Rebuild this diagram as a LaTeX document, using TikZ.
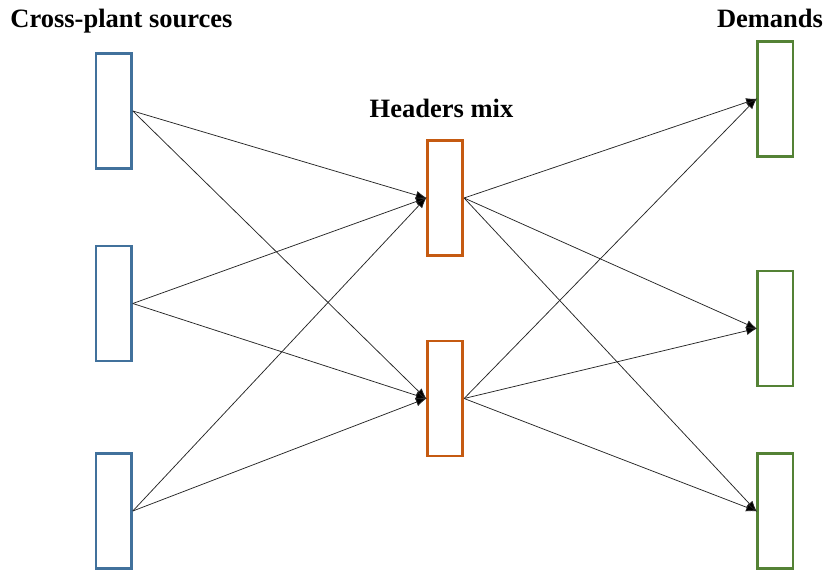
\documentclass[tikz,border=0pt]{standalone}
\usepackage{fontspec}
\setmainfont{Liberation Serif}
\usetikzlibrary{arrows.meta}
\definecolor{srcblue}{HTML}{41719C}
\definecolor{hdrorange}{HTML}{C55A11}
\definecolor{dmdgreen}{HTML}{548235}
\tikzset{
  box/.style={draw, line width=2.7bp, fill=white, minimum width=35.5bp, minimum height=115bp, inner sep=0pt},
  src/.style={box, draw=srcblue},
  hdr/.style={box, draw=hdrorange},
  dmd/.style={box, draw=dmdgreen},
  flow/.style={line width=0.75bp, draw=black!85, -{Latex[length=11bp,width=8.5bp,fill=black]}, shorten >=-1bp},
  ttl/.style={font=\fontsize{26.5bp}{30bp}\selectfont\bfseries, inner sep=0pt, anchor=base}
}
\begin{document}
\begin{tikzpicture}[x=1bp,y=-1bp]
\useasboundingbox (0,0) rectangle (827,572);
\node[ttl] (t1) at (121.5,28) {Cross-plant sources};
\node[ttl] (t2) at (441.5,118) {Headers mix};
\node[ttl] (t3) at (770,28) {Demands};
\node[src] (s1) at (113.7,111) {};
\node[src] (s2) at (113.7,303.5) {};
\node[src] (s3) at (113.7,511) {};
\node[hdr] (h1) at (445,198) {};
\node[hdr] (h2) at (445,398.5) {};
\node[dmd] (d1) at (775.3,99) {};
\node[dmd] (d2) at (775.3,328.5) {};
\node[dmd] (d3) at (775.3,511) {};
\foreach \s in {s1,s2,s3}{
  \foreach \h in {h1,h2}{
    \draw[flow] (\s.east) -- (\h.west);
  }
}
\foreach \h in {h1,h2}{
  \foreach \d in {d1,d2,d3}{
    \draw[flow] (\h.east) -- (\d.west);
  }
}
\end{tikzpicture}
\end{document}
